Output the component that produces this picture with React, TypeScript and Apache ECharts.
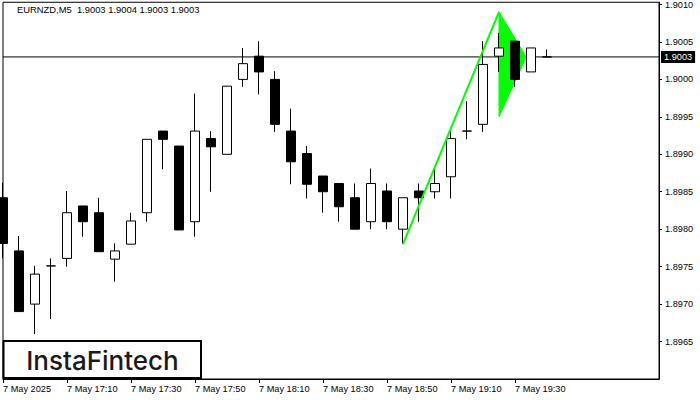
import React, { useEffect, useRef } from "react";
import * as echarts from "echarts";

// Bar times (5-minute bars), k = 0..34, plus empty right-shift slots
const barTimes = [
  "16:50", "16:55", "17:00", "17:05", "17:10", "17:15", "17:20", "17:25",
  "17:30", "17:35", "17:40", "17:45", "17:50", "17:55", "18:00", "18:05",
  "18:10", "18:15", "18:20", "18:25", "18:30", "18:35", "18:40", "18:45",
  "18:50", "18:55", "19:00", "19:05", "19:10", "19:15", "19:20", "19:25",
  "19:30", "19:35", "19:40",
];
const shiftTimes = ["19:45", "19:50", "19:55", "20:00", "20:05", "20:10", "20:15"];

// OHLC values
const opens = [
  1.89842, 1.89771, 1.897, 1.89751, 1.89761, 1.89831, 1.89822, 1.8976,
  1.8978, 1.89822, 1.89931, 1.89911, 1.8981, 1.89921, 1.899, 1.9,
  1.90031, 1.9, 1.89931, 1.89901, 1.89871, 1.89861, 1.89842, 1.8981,
  1.89851, 1.898, 1.89851, 1.8985, 1.8987, 1.89931, 1.8994, 1.90031,
  1.90051, 1.9001, 1.9003,
];
const closes = [
  1.89781, 1.8969, 1.8974, 1.89751, 1.89822, 1.8981, 1.8977, 1.89771,
  1.89811, 1.8992, 1.8992, 1.89799, 1.89931, 1.8991, 1.89991, 1.90021,
  1.9001, 1.8994, 1.8989, 1.8986, 1.8985, 1.8983, 1.898, 1.89861,
  1.8981, 1.89842, 1.89842, 1.89861, 1.89921, 1.89931, 1.9002, 1.90042,
  1.9, 1.90042, 1.9003,
];
const lows = [
  1.89761, 1.8969, 1.8966, 1.8968, 1.8975, 1.8979, 1.8977, 1.8973,
  1.8978, 1.8981, 1.8988, 1.89799, 1.8979, 1.8985, 1.899, 1.8999,
  1.8998, 1.8993, 1.8986, 1.89841, 1.89822, 1.8981, 1.898, 1.898,
  1.898, 1.8978, 1.8981, 1.89841, 1.89841, 1.8992, 1.8993, 1.9001,
  1.8999, 1.9001, 1.9003,
];
const highs = [
  1.89862, 1.89791, 1.89751, 1.89761, 1.89851, 1.89831, 1.89842, 1.89781,
  1.89822, 1.8992, 1.89931, 1.89911, 1.89981, 1.89931, 1.89991, 1.90042,
  1.90051, 1.90011, 1.89961, 1.89911, 1.89871, 1.89861, 1.89861, 1.89881,
  1.89861, 1.89842, 1.89861, 1.89881, 1.89931, 1.89971, 1.90051, 1.90062,
  1.90051, 1.90042, 1.9004,
];

// Pennant pattern
const poleX = [25, 31];
const poleY = [1.8978, 1.9009];
const flagX = [31, 31, 32.7];
const flagY = [1.9009, 1.8995, 1.9003];

const currentPrice = 1.9003;
const yTicksMin = 1.896;
const yTicksMax = 1.90103;
const yInterval = 0.0005;
const lastTimeLabelIdx = 32;

const titleText = "EURNZD,M5  1.9003 1.9004 1.9003 1.9003";

export default function App() {
  const ref = useRef<HTMLDivElement>(null);

  useEffect(() => {
    document.body.style.margin = "0";
    if (!ref.current) return;
    const chart = echarts.init(ref.current, undefined, { renderer: "svg" });

    const categories = [...barTimes, ...shiftTimes];
    const candleData = opens.map((o, i) => [o, closes[i], lows[i], highs[i]]);
    const showIdx = (i: number) => i % 4 === 0 && i <= lastTimeLabelIdx;
    const font = "Liberation Sans";
    const lastIdx = categories.length - 1;

    const option: any = {
      animation: false,
      backgroundColor: "#fff",
      title: {
        text: titleText,
        left: 17,
        top: 5,
        padding: 0,
        textStyle: { fontSize: 9.4, fontWeight: "normal", color: "#000", fontFamily: font },
      },
      grid: {
        left: 3,
        right: 41,
        top: 2,
        bottom: 21,
        show: true,
        borderColor: "#000",
        borderWidth: 1,
        backgroundColor: "#fff",
      },
      xAxis: {
        type: "category",
        data: categories,
        boundaryGap: false,
        axisLine: { show: true, lineStyle: { color: "#000", width: 1 } },
        axisTick: { show: true, interval: (i: number) => showIdx(i), length: 4, lineStyle: { color: "#000" } },
        axisLabel: {
          interval: (i: number) => showIdx(i),
          formatter: (v: string, i: number) =>
            i > lastTimeLabelIdx ? "" : i === 0 ? "7 May 2025" : "7 May " + v,
          align: "left",
          margin: 5,
          fontSize: 9.2,
          color: "#000",
          fontFamily: font,
        },
        splitLine: { show: false },
      },
      yAxis: {
        type: "value",
        position: "right",
        min: yTicksMin,
        max: yTicksMax,
        interval: yInterval,
        axisLine: { show: true, lineStyle: { color: "#000", width: 1 } },
        axisTick: { show: true, length: 3, lineStyle: { color: "#000" } },
        axisLabel: {
          margin: 6,
          fontSize: 9.2,
          color: "#000",
          fontFamily: font,
          showMinLabel: false,
          showMaxLabel: false,
          formatter: (v: number) => {
            const r = Math.round(v / yInterval) * yInterval;
            if (Math.abs(r - v) > 1e-7) return "";
            if (v < yTicksMin + 0.0001) return "";
            return v.toFixed(4);
          },
        },
        splitLine: { show: false },
      },
      series: [
        {
          type: "line",
          z: 1,
          silent: true,
          symbol: "none",
          data: [[0, currentPrice], [lastIdx, currentPrice]],
          lineStyle: { color: "#000", width: 1 },
          endLabel: {
            show: true,
            distance: 2,
            formatter: () => currentPrice.toFixed(4),
            backgroundColor: "#000",
            color: "#fff",
            padding: [2, 3, 1, 3],
            fontSize: 9.2,
            fontFamily: font,
          },
        },
        {
          type: "custom",
          z: 2,
          data: [[flagX[0], flagY[0]]],
          renderItem: (params: any, api: any) => {
            const c = (x: number, y: number) => {
              const i = Math.floor(x);
              const f = x - i;
              const a = api.coord([i, y]);
              if (f === 0) return a;
              const b = api.coord([i + 1, y]);
              return [a[0] + f * (b[0] - a[0]), a[1]];
            };
            const pts = flagX.map((x, i) => c(x, flagY[i]));
            return {
              type: "polygon",
              shape: { points: pts },
              style: { fill: "#00ff00", stroke: "#00ff00", lineWidth: 1 },
            };
          },
        },
        {
          type: "candlestick",
          z: 3,
          data: candleData,
          barWidth: 10,
          clip: true,
          itemStyle: {
            color: "#fff",
            color0: "#000",
            borderColor: "#000",
            borderColor0: "#000",
            borderWidth: 1,
          },
        },
        {
          type: "line",
          z: 4,
          data: poleX.map((x, i) => [x, poleY[i]]),
          symbol: "none",
          lineStyle: { color: "#00ff00", width: 2 },
        },
      ],
      graphic: [
        {
          type: "rect",
          z: 100,
          shape: { x: 3.5, y: 341, width: 197.5, height: 37 },
          style: { fill: "#fff", stroke: "#000", lineWidth: 2 },
        },
        {
          type: "text",
          z: 101,
          x: 102.5,
          y: 360,
          style: {
            text: "InstaFintech",
            fill: "#1a1a1a",
            font: "500 26px Inter",
            textAlign: "center",
            textVerticalAlign: "middle",
          },
        },
      ],
    };

    chart.setOption(option);
    return () => chart.dispose();
  }, []);

  return <div ref={ref} style={{ width: 700, height: 400 }} />;
}
